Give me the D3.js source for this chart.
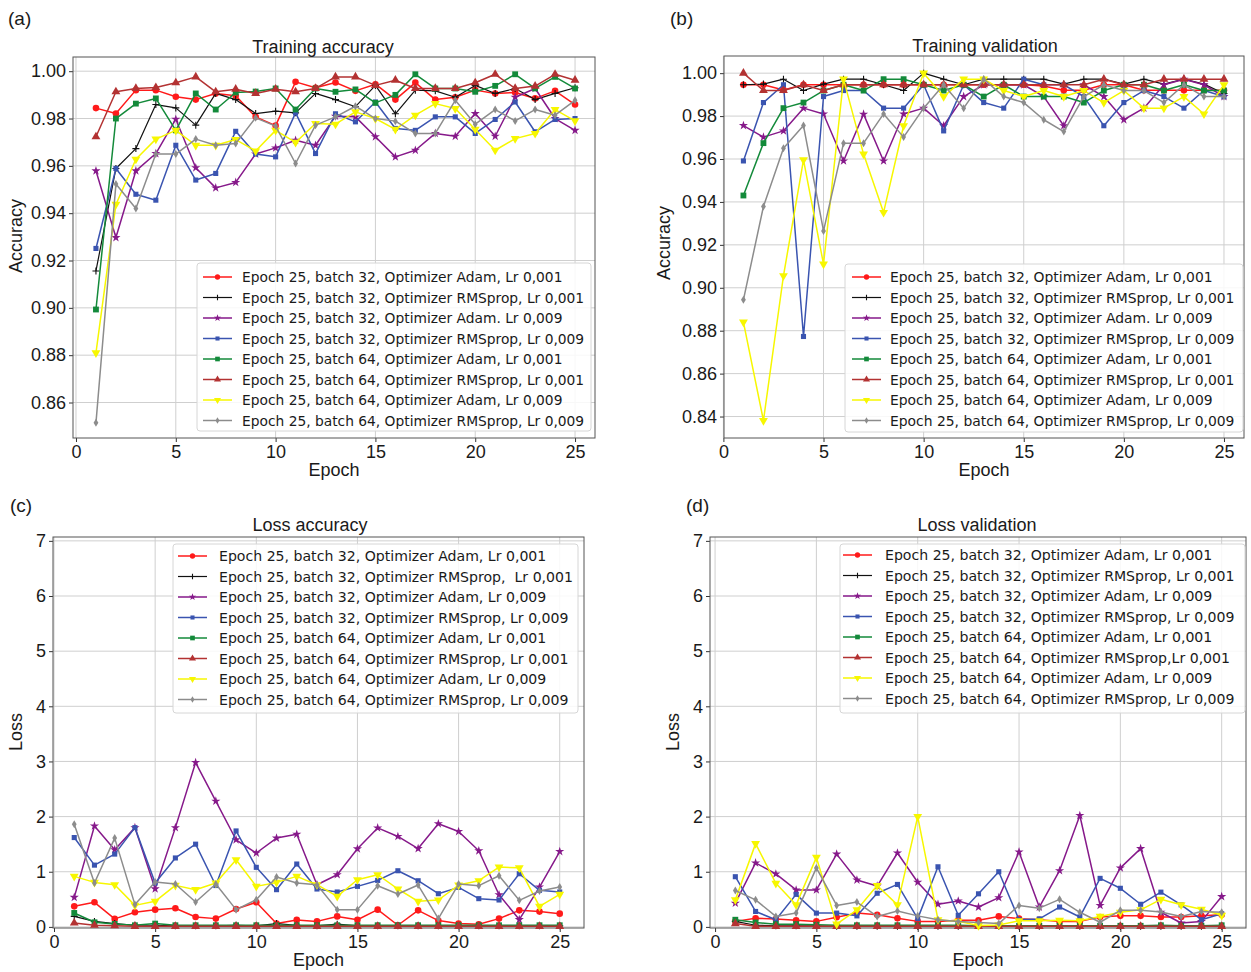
<!DOCTYPE html>
<html><head><meta charset="utf-8">
<script src="https://cdn.jsdelivr.net/npm/d3@7"></script>
<style>
body{margin:0;background:#fff}
svg text{font-family:"Liberation Sans",Arial,sans-serif;fill:#1a1a1a}
svg text.leg{font-family:"DejaVu Sans",sans-serif;white-space:pre}
</style>
</head><body>
<svg id="chart" width="1251" height="972"></svg>
<script>
// ---------------- DATA ----------------
const epochs = d3.range(1, 26);
const xTickValues = [0, 5, 10, 15, 20, 25];
const accTicksA = [0.86, 0.88, 0.90, 0.92, 0.94, 0.96, 0.98, 1.00];
const accTicksB = [0.84, 0.86, 0.88, 0.90, 0.92, 0.94, 0.96, 0.98, 1.00];
const lossTicks = [0, 1, 2, 3, 4, 5, 6, 7];

const panelTitles = ["Training accuracy", "Training validation", "Loss accuracy", "Loss validation"];
const panelTags = ["(a)", "(b)", "(c)", "(d)"];

const legendA = [
  "Epoch 25, batch 32, Optimizer Adam, Lr 0,001",
  "Epoch 25, batch 32, Optimizer RMSprop, Lr 0,001",
  "Epoch 25, batch 32, Optimizer Adam. Lr 0,009",
  "Epoch 25, batch 32, Optimizer RMSprop, Lr 0,009",
  "Epoch 25, batch 64, Optimizer Adam, Lr 0,001",
  "Epoch 25, batch 64, Optimizer RMSprop, Lr 0,001",
  "Epoch 25, batch 64, Optimizer Adam, Lr 0,009",
  "Epoch 25, batch 64, Optimizer RMSprop, Lr 0,009"];
const legendB = legendA.slice();
const legendC = [
  "Epoch 25, batch 32, Optimizer Adam, Lr 0,001",
  "Epoch 25, batch 32, Optimizer RMSprop,  Lr 0,001",
  "Epoch 25, batch 32, Optimizer Adam, Lr 0,009",
  "Epoch 25, batch 32, Optimizer RMSprop, Lr 0,009",
  "Epoch 25, batch 64, Optimizer Adam, Lr 0,001",
  "Epoch 25, batch 64, Optimizer RMSprop, Lr 0,001",
  "Epoch 25, batch 64, Optimizer Adam, Lr 0,009",
  "Epoch 25, batch 64, Optimizer RMSprop, Lr 0,009"];
const legendD = [
  "Epoch 25, batch 32, Optimizer Adam, Lr 0,001",
  "Epoch 25, batch 32, Optimizer RMSprop, Lr 0,001",
  "Epoch 25, batch 32, Optimizer Adam, Lr 0,009",
  "Epoch 25, batch 32, Optimizer RMSprop, Lr 0,009",
  "Epoch 25, batch 64, Optimizer Adam, Lr 0,001",
  "Epoch 25, batch 64, Optimizer RMSprop,Lr 0,001",
  "Epoch 25, batch 64, Optimizer Adam, Lr 0,009",
  "Epoch 25, batch 64, Optimizer RMSprop, Lr 0,009"];

// (a) Training accuracy
const trainAcc_b32_adam_001 = [0.9844,0.9821,0.992,0.992,0.9892,0.988,0.9906,0.9896,0.9807,0.977,0.9955,0.993,0.9952,0.9917,0.9945,0.988,0.9952,0.988,0.989,0.992,0.9906,0.991,0.9885,0.9917,0.9859];
const trainAcc_b32_rms_001  = [0.9156,0.9589,0.9673,0.9859,0.9845,0.9772,0.9906,0.988,0.9821,0.9831,0.9824,0.9906,0.988,0.985,0.994,0.982,0.992,0.9917,0.989,0.994,0.9906,0.9927,0.988,0.9906,0.993];
const trainAcc_b32_adam_009 = [0.9579,0.9297,0.9579,0.9652,0.9797,0.9592,0.9507,0.953,0.965,0.9676,0.9708,0.9687,0.981,0.9807,0.9723,0.9638,0.9666,0.9737,0.9725,0.9821,0.9725,0.989,0.9927,0.98,0.975];
const trainAcc_b32_rms_009  = [0.9251,0.9589,0.948,0.9455,0.9687,0.954,0.9568,0.9746,0.965,0.9638,0.9824,0.9652,0.982,0.9786,0.987,0.9758,0.975,0.9807,0.9807,0.9737,0.9796,0.987,0.9744,0.9796,0.98];
const trainAcc_b64_adam_001 = [0.8993,0.98,0.9863,0.9885,0.975,0.9906,0.9838,0.991,0.9914,0.9927,0.9838,0.9927,0.9913,0.9923,0.9866,0.99,0.9987,0.9927,0.9927,0.9913,0.9938,0.9987,0.9927,0.9976,0.9927];
const trainAcc_b64_rms_001  = [0.9723,0.9913,0.9927,0.9931,0.9951,0.9976,0.9913,0.9924,0.9906,0.9924,0.9913,0.9927,0.9976,0.9976,0.994,0.9962,0.9927,0.9927,0.9927,0.9951,0.9987,0.9927,0.9937,0.9987,0.9962];
const trainAcc_b64_adam_009 = [0.881,0.9437,0.9628,0.9713,0.975,0.9687,0.9687,0.9711,0.9663,0.975,0.9699,0.9779,0.9776,0.9828,0.98,0.9754,0.9814,0.9863,0.9842,0.9754,0.9666,0.9715,0.9737,0.9838,0.979];
const trainAcc_b64_rms_009  = [0.8514,0.9523,0.942,0.965,0.965,0.9713,0.9687,0.9694,0.9803,0.9768,0.961,0.9772,0.9807,0.9852,0.98,0.9789,0.9737,0.9737,0.9877,0.9776,0.9838,0.979,0.9838,0.9814,0.9877];

// (b) Training validation
const valAcc_b32_adam_001 = [0.9946,0.9946,0.9922,0.9946,0.9946,0.9946,0.9946,0.9946,0.9946,0.9946,0.9946,0.9946,0.9946,0.9946,0.9946,0.994,0.992,0.992,0.9946,0.9946,0.992,0.992,0.992,0.992,0.992];
const valAcc_b32_rms_001  = [0.9946,0.9949,0.9972,0.9919,0.9949,0.9972,0.9972,0.9946,0.9919,1.0,0.9972,0.9946,0.9972,0.9972,0.9972,0.9972,0.9949,0.9972,0.9972,0.9949,0.9972,0.9949,0.9972,0.9949,0.9905];
const valAcc_b32_adam_009 = [0.9756,0.9702,0.9731,0.9837,0.981,0.9591,0.9809,0.9591,0.981,0.9837,0.9755,0.9891,0.9946,0.9946,0.9946,0.9891,0.9755,0.9946,0.9891,0.9783,0.9837,0.9946,0.9972,0.9946,0.9891];
const valAcc_b32_rms_009  = [0.9591,0.9863,0.9946,0.8773,0.9891,0.9919,0.9919,0.9837,0.9837,0.9946,0.9731,0.9946,0.9863,0.9837,0.9972,0.9946,0.9946,0.9891,0.9755,0.9863,0.9919,0.9891,0.9837,0.9919,0.9891];
const valAcc_b64_adam_001 = [0.943,0.9674,0.9837,0.9863,0.9919,0.9946,0.9919,0.9972,0.9972,0.9946,0.9919,0.9946,0.9891,0.9946,0.9891,0.9891,0.9891,0.9863,0.9919,0.9946,0.9946,0.9919,0.9946,0.9919,0.9919];
const valAcc_b64_rms_001  = [1.0,0.9919,0.9919,0.9946,0.9919,0.9946,0.9946,0.9946,0.9946,0.9946,0.9946,0.9946,0.9946,0.9946,0.9946,0.9946,0.9946,0.9946,0.9972,0.9946,0.9946,0.9972,0.9972,0.9972,0.9972];
const valAcc_b64_adam_009 = [0.884,0.8381,0.9056,0.9596,0.911,0.9972,0.9623,0.9351,0.9755,1.0,0.9891,0.9972,0.9972,0.9919,0.9891,0.9919,0.9891,0.9919,0.9863,0.9919,0.9837,0.9837,0.9891,0.981,0.9946];
const valAcc_b64_rms_009  = [0.8944,0.9379,0.965,0.9756,0.9265,0.9674,0.9674,0.981,0.9702,0.9837,0.9946,0.9837,0.9972,0.9891,0.9863,0.9783,0.9728,0.9891,0.9946,0.9919,0.9919,0.9863,0.9946,0.9891,0.9891];

// (c) Loss accuracy (training loss)
const trainLoss_b32_adam_001 = [0.373,0.446,0.145,0.265,0.313,0.337,0.18,0.15,0.325,0.446,0.06,0.127,0.1,0.19,0.13,0.313,0.03,0.30,0.114,0.06,0.048,0.15,0.30,0.277,0.24];
const trainLoss_b32_rms_001  = [0.19,0.10,0.06,0.03,0.03,0.02,0.02,0.02,0.03,0.02,0.06,0.03,0.02,0.05,0.02,0.02,0.02,0.02,0.02,0.02,0.02,0.02,0.02,0.02,0.02];
const trainLoss_b32_adam_009 = [0.536,1.83,1.40,1.80,0.69,1.80,2.98,2.28,1.58,1.34,1.61,1.68,0.765,0.946,1.416,1.795,1.64,1.42,1.87,1.73,1.38,0.584,0.133,0.723,1.367];
const trainLoss_b32_rms_009  = [1.62,1.12,1.32,1.80,0.795,1.25,1.50,0.75,1.74,1.08,0.675,1.14,0.687,0.633,0.735,0.843,1.018,0.837,0.602,0.717,0.512,0.488,0.964,0.663,0.633];
const trainLoss_b64_adam_001 = [0.253,0.084,0.054,0.03,0.06,0.03,0.03,0.03,0.03,0.03,0.03,0.03,0.03,0.03,0.03,0.03,0.03,0.03,0.03,0.03,0.03,0.03,0.03,0.03,0.03];
const trainLoss_b64_rms_001  = [0.07,0.03,0.02,0.01,0.01,0.01,0.01,0.01,0.01,0.01,0.01,0.01,0.01,0.01,0.01,0.01,0.01,0.01,0.01,0.01,0.01,0.01,0.01,0.01,0.01];
const trainLoss_b64_adam_009 = [0.916,0.807,0.765,0.39,0.464,0.753,0.675,0.795,1.217,0.735,0.807,0.916,0.765,0.554,0.855,0.946,0.687,0.464,0.488,0.759,0.837,1.084,1.072,0.373,0.59];
const trainLoss_b64_rms_009  = [1.86,0.795,1.61,0.404,0.813,0.777,0.452,0.777,0.313,0.494,0.904,0.795,0.765,0.313,0.313,0.747,0.596,0.759,0.15,0.777,0.747,0.928,0.482,0.65,0.723];

// (d) Loss validation
const valLoss_b32_adam_001 = [0.1,0.156,0.144,0.12,0.1,0.174,0.25,0.22,0.156,0.1,0.1,0.12,0.12,0.19,0.15,0.13,0.1,0.1,0.18,0.2,0.2,0.18,0.18,0.2,0.22];
const valLoss_b32_rms_001  = [0.1,0.03,0.02,0.02,0.02,0.01,0.01,0.01,0.01,0.01,0.01,0.01,0.01,0.01,0.01,0.01,0.01,0.01,0.01,0.01,0.01,0.01,0.01,0.01,0.01];
const valLoss_b32_adam_009 = [0.43,1.16,0.96,0.67,0.67,1.32,0.85,0.74,1.34,0.81,0.41,0.47,0.36,0.53,1.36,0.36,1.02,2.02,0.39,1.07,1.42,0.265,0.07,0.1,0.55];
const valLoss_b32_rms_009  = [0.91,0.28,0.13,0.59,0.25,0.25,0.2,0.61,0.77,0.15,1.09,0.21,0.6,1.0,0.13,0.145,0.36,0.18,0.88,0.7,0.41,0.63,0.4,0.13,0.24];
const valLoss_b64_adam_001 = [0.13,0.08,0.05,0.05,0.04,0.03,0.03,0.03,0.03,0.03,0.03,0.03,0.02,0.02,0.02,0.02,0.02,0.02,0.02,0.02,0.02,0.03,0.02,0.02,0.03];
const valLoss_b64_rms_001  = [0.06,0.01,0.01,0.01,0.01,0.01,0.01,0.01,0.01,0.01,0.01,0.01,0.01,0.01,0.01,0.01,0.01,0.01,0.01,0.01,0.01,0.01,0.01,0.01,0.01];
const valLoss_b64_adam_009 = [0.49,1.51,0.79,0.4,1.26,0.05,0.31,0.75,0.4,2.0,0.13,0.1,0.024,0.036,0.11,0.11,0.12,0.11,0.19,0.265,0.31,0.5,0.4,0.32,0.21];
const valLoss_b64_rms_009  = [0.66,0.49,0.19,0.25,1.07,0.39,0.45,0.19,0.29,0.2,0.13,0.1,0.08,0.06,0.39,0.34,0.5,0.265,0.084,0.3,0.3,0.27,0.19,0.28,0.265];

// ---------------- STYLES ----------------
const seriesColors = ["#ff1a1a", "#111111", "#86198a", "#3a54b0", "#138a3a", "#b33232", "#f7f700", "#8c8c8c"];
const seriesMarkers = ["circle", "plus", "star", "square", "square", "triangle", "triangleDown", "diamond"];

const panels = [
  { tag: panelTags[0], title: panelTitles[0], ylabel: "Accuracy", legend: legendA,
    series: [trainAcc_b32_adam_001, trainAcc_b32_rms_001, trainAcc_b32_adam_009, trainAcc_b32_rms_009, trainAcc_b64_adam_001, trainAcc_b64_rms_001, trainAcc_b64_adam_009, trainAcc_b64_rms_009],
    yTicks: accTicksA, fmt: d3.format(".2f"),
    L: 73, R: 595, T: 57, B: 438, xd: [-0.15, 26], yd: [0.845, 1.006],
    tagX: 8, tagY: 25, titleX: 323, titleY: 53, ylabX: 22, ylabY: 236, legFont: 13.8,
    lg: { x: 197, y: 263, w: 394, h: 168, hx: 203, tx: 242, r0: 277 } },
  { tag: panelTags[1], title: panelTitles[1], ylabel: "Accuracy", legend: legendB,
    series: [valAcc_b32_adam_001, valAcc_b32_rms_001, valAcc_b32_adam_009, valAcc_b32_rms_009, valAcc_b64_adam_001, valAcc_b64_rms_001, valAcc_b64_adam_009, valAcc_b64_rms_009],
    yTicks: accTicksB, fmt: d3.format(".2f"),
    L: 724, R: 1244, T: 56, B: 438, xd: [0.03, 26], yd: [0.830, 1.008],
    tagX: 670, tagY: 25, titleX: 985, titleY: 52, ylabX: 670, ylabY: 243, legFont: 13.9,
    lg: { x: 845, y: 264, w: 398, h: 168, hx: 852, tx: 890, r0: 277 } },
  { tag: panelTags[2], title: panelTitles[2], ylabel: "Loss", legend: legendC,
    series: [trainLoss_b32_adam_001, trainLoss_b32_rms_001, trainLoss_b32_adam_009, trainLoss_b32_rms_009, trainLoss_b64_adam_001, trainLoss_b64_rms_001, trainLoss_b64_adam_009, trainLoss_b64_rms_009],
    yTicks: lossTicks, fmt: d3.format("d"),
    L: 53, R: 584, T: 537, B: 928, xd: [-0.05, 26.2], yd: [-0.02, 7.07],
    tagX: 10, tagY: 512, titleX: 310, titleY: 531, ylabX: 22, ylabY: 732, legFont: 14.1,
    lg: { x: 173, y: 544, w: 405, h: 169, hx: 178, tx: 219, r0: 556 } },
  { tag: panelTags[3], title: panelTitles[3], ylabel: "Loss", legend: legendD,
    series: [valLoss_b32_adam_001, valLoss_b32_rms_001, valLoss_b32_adam_009, valLoss_b32_rms_009, valLoss_b64_adam_001, valLoss_b64_rms_001, valLoss_b64_adam_009, valLoss_b64_rms_009],
    yTicks: lossTicks, fmt: d3.format("d"),
    L: 710, R: 1246, T: 537, B: 928, xd: [-0.25, 26.2], yd: [-0.02, 7.07],
    tagX: 686, tagY: 512, titleX: 977, titleY: 531, ylabX: 679, ylabY: 732, legFont: 14.1,
    lg: { x: 840, y: 544, w: 405, h: 169, hx: 843, tx: 885, r0: 555 } }
];

const svg = d3.select("#chart");

function drawMarker(g, type, color, x, y, scale) {
  const s = scale || 1;
  let p;
  switch (type) {
    case "circle":
      g.append("circle").attr("cx", x).attr("cy", y).attr("r", 3.3 * s).attr("fill", color);
      return;
    case "plus":
      g.append("path").attr("d", `M${x - 3.5 * s},${y}H${x + 3.5 * s}M${x},${y - 3.5 * s}V${y + 3.5 * s}`)
        .attr("stroke", color).attr("stroke-width", 1.1).attr("fill", "none");
      return;
    case "star":
      p = d3.symbol(d3.symbolStar, 26 * s * s)();
      break;
    case "square":
      p = d3.symbol(d3.symbolSquare, (color === seriesColors[3] ? 26 : 34) * s * s)();
      break;
    case "triangle":
      p = d3.symbol(d3.symbolTriangle, 34 * s * s)();
      break;
    case "triangleDown":
      g.append("path").attr("d", d3.symbol(d3.symbolTriangle, 34 * s * s)())
        .attr("transform", `translate(${x},${y}) rotate(180)`).attr("fill", color);
      return;
    case "diamond":
      p = `M0,${-4 * s}L${2.4 * s},0L0,${4 * s}L${-2.4 * s},0Z`;
      break;
  }
  g.append("path").attr("d", p).attr("transform", `translate(${x},${y})`).attr("fill", color);
}

panels.forEach(P => {
  const x = d3.scaleLinear().domain(P.xd).range([P.L, P.R]);
  const y = d3.scaleLinear().domain(P.yd).range([P.B, P.T]);
  const g = svg.append("g");

  // grid
  g.append("g").selectAll("line").data(xTickValues).join("line")
    .attr("x1", d => x(d)).attr("x2", d => x(d)).attr("y1", P.T).attr("y2", P.B)
    .attr("stroke", "#cfcfcf").attr("stroke-width", 1);
  g.append("g").selectAll("line").data(P.yTicks).join("line")
    .attr("x1", P.L).attr("x2", P.R).attr("y1", d => y(d)).attr("y2", d => y(d))
    .attr("stroke", "#cfcfcf").attr("stroke-width", 1);

  // axes
  const ax = g.append("g").attr("transform", `translate(0,${P.B})`)
    .call(d3.axisBottom(x).tickValues(xTickValues).tickSize(4).tickPadding(3));
  const ay = g.append("g").attr("transform", `translate(${P.L},0)`)
    .call(d3.axisLeft(y).tickValues(P.yTicks).tickFormat(P.fmt).tickSize(4).tickPadding(3));
  [ax, ay].forEach(a => {
    a.select(".domain").remove();
    a.selectAll(".tick line").attr("stroke", "#333");
    a.selectAll(".tick text").attr("font-size", 18).attr("font-family", "Liberation Sans, Arial, sans-serif").attr("fill", "#1a1a1a");
  });

  // frame
  g.append("rect").attr("x", P.L).attr("y", P.T).attr("width", P.R - P.L).attr("height", P.B - P.T)
    .attr("fill", "none").attr("stroke", "#555").attr("stroke-width", 1);

  // series
  const line = d3.line().x((d, i) => x(epochs[i])).y(d => y(d));
  P.series.forEach((vals, si) => {
    const c = seriesColors[si];
    g.append("path").datum(vals).attr("d", line).attr("fill", "none")
      .attr("stroke", c).attr("stroke-width", si === 1 ? 1.2 : 1.5).attr("stroke-linejoin", "round");
    const mg = g.append("g");
    vals.forEach((v, i) => drawMarker(mg, seriesMarkers[si], c, x(epochs[i]), y(v)));
  });

  // legend
  const lg = g.append("g");
  lg.append("rect").attr("x", P.lg.x).attr("y", P.lg.y).attr("width", P.lg.w).attr("height", P.lg.h)
    .attr("rx", 3).attr("fill", "#fff").attr("fill-opacity", 0.85).attr("stroke", "#d6d6d6");
  P.legend.forEach((lab, i) => {
    const ry = P.lg.r0 + i * 20.5;
    const c = seriesColors[i];
    lg.append("line").attr("x1", P.lg.hx).attr("x2", P.lg.hx + 29).attr("y1", ry).attr("y2", ry)
      .attr("stroke", c).attr("stroke-width", i === 1 ? 1.2 : 1.5);
    drawMarker(lg, seriesMarkers[i], c, P.lg.hx + 14.5, ry, 0.8);
    lg.append("text").attr("class", "leg").attr("x", P.lg.tx).attr("y", ry + 5)
      .attr("font-size", P.legFont).attr("fill", "#1a1a1a").text(lab);
  });

  // labels
  g.append("text").attr("x", P.tagX).attr("y", P.tagY).attr("font-size", 19).text(P.tag);
  g.append("text").attr("x", P.titleX).attr("y", P.titleY).attr("text-anchor", "middle").attr("font-size", 18).text(P.title);
  g.append("text").attr("x", (P.L + P.R) / 2).attr("y", P.B + 38).attr("text-anchor", "middle").attr("font-size", 18).text("Epoch");
  g.append("text").attr("transform", `translate(${P.ylabX},${P.ylabY}) rotate(-90)`).attr("text-anchor", "middle").attr("font-size", 18).text(P.ylabel);
});
</script>
</body></html>
